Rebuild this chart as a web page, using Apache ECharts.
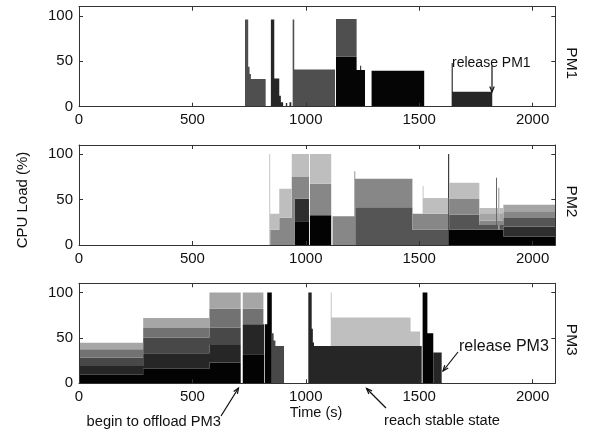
<!DOCTYPE html>
<html><head><meta charset="utf-8">
<script src="https://cdn.jsdelivr.net/npm/echarts@6/dist/echarts.min.js"></script>
<style>html,body{margin:0;padding:0;background:#fff}#c{width:591px;height:432px}</style>
</head><body><div id="c"></div>
<script>
// ---- data ----
const xTickStep = 500;
const yTickStep = 50;
const panelNames = ['PM1', 'PM2', 'PM3'];

// PM1: time breakpoints (s) and CPU load (%) per VM layer (stacked, value held until next breakpoint)
const pm1Time = [0,732,746,752,758,823,846,861,883,890,900,912,918,928,936,942,949,1129,1133,1224,1240,1244,1261,1290,1522,1643,1648,1822,2100];
const pm1VmA  = [0,0,0,0,0,0, 0,0,0,0,0, 0,0,0,0, 0,0,0,55, 40.5,45,40.5,0, 39.5,0, 0,0,0,0];
const pm1VmB  = [0,0,0,0,0,0, 96,31,12,5,0, 4,0,5,0, 0,0,0,0, 0,0,0,0, 0,0, 48,16.5,0,0];
const pm1VmC  = [0,96,44,36,30.5,0, 0,0,0,0,0, 0,0,0,0, 96,41,0,41.5, 0,0,0,0, 0,0, 0,0,0,0];

// PM2
const pm2Time = [0,839,843,883,938,952,1014,1018,1112,1118,1214,1218,1470,1515,1519,1628,1632,1765,1839,1843,1849,1853,1871,2100];
const pm2VmA  = [0,0,0,0,0,26,0,32.6,0,0,0,0,0,0,0,100,16.7,16.7,16.7,16.7,16.7,16.7,9.3,9.3];
const pm2VmB  = [0,0,0,0,0,25,0,0,0,0,0,0,0,0,0,0,0,0,0,0,0,0,11.1,11.1];
const pm2VmC  = [0,0,0,0,0,0,0,0,0,0,0,41.5,16.7,16.7,16.7,0,16.6,5.3,57.3,5.3,0,5.3,9.2,9.2];
const pm2VmD  = [0,0,16.7,30,74.8,23.8,0,34.8,0,31.5,81,31.5,17.7,17.7,17.7,0,17.4,4.7,0,4.7,46.3,4.7,7.4,7.4];
const pm2VmE  = [0,0,0,0,0,0,0,0,0,0,0,0,0,0,0,0,0,8.3,0,8.3,0,8.3,7.4,7.4];
const pm2VmF  = [0,100,17.7,32,25.2,25.2,0,32.6,0,0,0,0,0,30.6,17.4,0,17.8,5.8,0,5.8,0,5.8,0,0];

// PM3
const pm3Time = [0,283,575,713,722,813,817,820,830,850,858,866,904,1011,1026,1031,1036,1110,1114,1462,1504,1511,1515,1536,1562,1599,2100];
const pm3VmA  = [9.5,16,23,0,32,32,0,65,100,0,0,0,0,0,0,0,0,0,0,0,0,0,100,55,0,0,0];
const pm3VmB  = [9.5,17,19,0,33,33,0,0,0,0,0,0,0,100,60,45,41,41,41,41,41,0,0,0,34,0,0];
const pm3VmC  = [9.5,17.3,19.5,0,0,0,0,0,0,55,47,41,0,0,0,0,0,0,0,0,0,0,0,0,0,0,0];
const pm3VmD  = [9,10.4,20.5,0,17,0,0,0,0,0,0,0,0,0,0,0,0,0,0,0,0,0,0,0,0,0,0];
const pm3VmE  = [7,11,18,0,18,0,0,0,0,0,0,0,0,0,0,0,0,0,0,0,0,0,0,0,0,0,0];
const pm3VmF  = [0,0,0,0,0,0,0,0,0,0,0,0,0,0,0,0,0,59,31.5,16,0,0,0,0,0,0,0];

// ---- styling ----
const FONT = '"Liberation Sans", Arial, sans-serif';
const panels = [
  {time: pm1Time, layers: [pm1VmA, pm1VmB, pm1VmC], colors: ['#050505', '#262626', '#4f4f4f'], top: 6.7},
  {time: pm2Time, layers: [pm2VmA, pm2VmB, pm2VmC, pm2VmD, pm2VmE, pm2VmF], colors: ['#030303', '#2e2e2e', '#555555', '#878787', '#a5a5a5', '#bebebe'], top: 145},
  {time: pm3Time, layers: [pm3VmA, pm3VmB, pm3VmC, pm3VmD, pm3VmE, pm3VmF], colors: ['#030303', '#262626', '#484848', '#727272', '#a6a6a6', '#bfbfbf'], top: 283.3}
];

const grid = [], xAxis = [], yAxis = [], series = [];
const axisLine = {show: true, onZero: false, lineStyle: {color: '#333', width: 1}};
const tick = {show: true, inside: true, length: 4, lineStyle: {color: '#333', width: 1}};
const plain = v => String(v);
panels.forEach((p, i) => {
  grid.push({left: 79, width: 476.3, top: p.top, height: 100, outerBoundsMode: 'none', containLabel: false});
  xAxis.push({type: 'value', gridIndex: i, min: 0, max: 2100, interval: xTickStep, position: 'bottom', z: 5,
    axisLine, axisTick: tick, splitLine: {show: false},
    axisLabel: {fontSize: 15, color: '#111', fontFamily: FONT, margin: 6, showMaxLabel: false, formatter: plain}});
  xAxis.push({type: 'value', gridIndex: i, min: 0, max: 2100, interval: xTickStep, position: 'top', z: 5,
    axisLine, axisTick: tick, splitLine: {show: false}, axisLabel: {show: false}});
  yAxis.push({type: 'value', gridIndex: i, min: 0, max: 110, interval: yTickStep, position: 'left', z: 5,
    axisLine, axisTick: tick, splitLine: {show: false},
    axisLabel: {fontSize: 15, color: '#111', fontFamily: FONT, margin: 6, showMaxLabel: false, formatter: plain}});
  yAxis.push({type: 'value', gridIndex: i, min: 0, max: 110, interval: yTickStep, position: 'right', z: 5,
    axisLine, axisTick: tick, splitLine: {show: false}, axisLabel: {show: false}});

  // cumulative (stacked) bounds per layer
  const n = p.time.length;
  let base = new Array(n).fill(0);
  p.layers.forEach((vals, k) => {
    const lower = base.slice();
    const upper = base.map((b, j) => b + vals[j]);
    base = upper;
    const time = p.time, color = p.colors[k];
    series.push({
      type: 'custom', name: panelNames[i] + '-VM' + (k + 1),
      xAxisIndex: 2 * i, yAxisIndex: 2 * i, clip: true, silent: true,
      data: [[0, 0]],
      renderItem: function (params, api) {
        const up = [], lo = [];
        for (let j = 0; j < n - 1; j++) {
          up.push(api.coord([time[j], upper[j]]), api.coord([time[j + 1], upper[j]]));
          lo.push(api.coord([time[j], lower[j]]), api.coord([time[j + 1], lower[j]]));
        }
        const pts = up.concat(lo.reverse());
        return {type: 'polygon', shape: {points: pts}, style: {fill: color, stroke: null}};
      },
      z: 2
    });
  });
});

function arrow(x1, y1, x2, y2) {
  const a = Math.atan2(y2 - y1, x2 - x1), L = 6, w = 0.38;
  const h1 = [x2 - L * Math.cos(a - w), y2 - L * Math.sin(a - w)];
  const h2 = [x2 - L * Math.cos(a + w), y2 - L * Math.sin(a + w)];
  const st = {stroke: '#111', lineWidth: 1.2};
  return [
    {type: 'line', shape: {x1, y1, x2, y2}, style: st, z: 10},
    {type: 'polyline', shape: {points: [h1, [x2, y2], h2]}, style: Object.assign({fill: null}, st), z: 10}
  ];
}
function txt(text, x, y, size, align, rot) {
  return {type: 'text', x, y, rotation: rot || 0, z: 10,
    style: {text, fill: '#111', font: size + 'px ' + FONT, align: align || 'center', verticalAlign: 'middle'}};
}

const graphic = [
  txt('CPU Load (%)', 23, 200, 15, 'center', Math.PI / 2),
  txt('PM1', 571, 63.3, 15.5, 'center', -Math.PI / 2),
  txt('PM2', 571, 201.5, 15.5, 'center', -Math.PI / 2),
  txt('PM3', 571, 339.8, 15.5, 'center', -Math.PI / 2),
  txt('Time (s)', 316, 413, 14.5, 'center'),
  txt('release PM1', 452, 63.3, 14, 'left'),
  txt('release PM3', 459, 346.7, 16, 'left'),
  txt('begin to offload PM3', 221, 421.7, 14.7, 'right'),
  txt('reach stable state', 500, 420.7, 14.7, 'right'),
  ...arrow(492, 66, 492, 92),
  ...arrow(221, 416, 238.5, 388),
  ...arrow(386, 408, 366.5, 388.5),
  ...arrow(458, 352, 443, 371)
];

const chart = echarts.init(document.getElementById('c'), null, {renderer: 'canvas'});
chart.setOption({
  animation: false, backgroundColor: '#fff',
  grid, xAxis, yAxis, series, graphic,
  tooltip: {show: false}, legend: {show: false}
});
</script></body></html>
